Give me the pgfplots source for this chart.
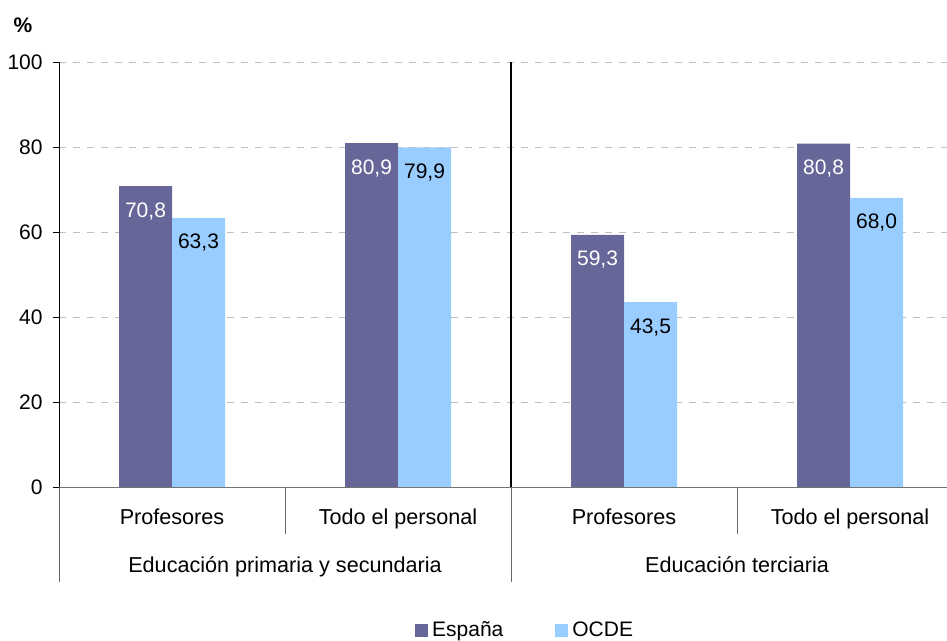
\documentclass[border=0pt]{standalone}
\usepackage{pgfplots}
\pgfplotsset{compat=1.18}
\usepackage{fontspec}
\setmainfont{Liberation Sans}
\definecolor{esp}{HTML}{666699}
\definecolor{ocde}{HTML}{99CCFF}
\begin{document}
\fontsize{10.5pt}{12.6pt}\selectfont
\begin{tikzpicture}
\useasboundingbox (0,0) rectangle (473.5pt,320.5pt);
\node[font=\bfseries\fontsize{10.5pt}{12.6pt}\selectfont] at (11.5pt,307.75pt) {\%};
\begin{axis}[
  at={(29.5pt,77pt)}, anchor=south west,
  scale only axis, width=444pt, height=212.5pt,
  xmin=-0.5, xmax=3.429, ymin=0, ymax=100,
  ybar=0pt, bar width=26.5pt,
  every node near coord/.append style={anchor=center, yshift=-12.5pt, font=\fontsize{10.5pt}{12.6pt}\selectfont},
  axis x line*=bottom, axis y line*=left, axis line style={-},
  x axis line style={black!55},
  y axis line style={black},
  xtick=\empty,
  ytick={0,20,40,60,80,100},
  tick align=outside, major tick length=3pt,
  ytick style={black},
  ymajorgrids, grid style={black!25, dash pattern=on 3.5pt off 3.5pt},
  /pgf/number format/assume math mode=true,
  yticklabel style={font=\fontsize{10.5pt}{12.6pt}\selectfont, xshift=-1.5pt},
  clip=false,
  legend style={draw=none, fill=none, at={(0.526,0)}, anchor=center, yshift=-72pt,
    legend columns=2, font=\fontsize{10.5pt}{12.6pt}\selectfont,
    /tikz/every even column/.append style={column sep=24pt}},
]
\addplot[fill=esp, draw=none,
  nodes near coords={\pgfmathprintnumber[fixed,fixed zerofill,precision=1,use comma,assume math mode=true]{\pgfplotspointmeta}},
  every node near coord/.append style={text=white},
  legend image code/.code={\fill[esp] (0pt,-3.25pt) rectangle (6.5pt,3.25pt);}]
  coordinates {(0,70.8) (1,80.9) (2,59.3) (3,80.8)};
\addlegendentry{España}
\addplot[fill=ocde, draw=none,
  nodes near coords={\pgfmathprintnumber[fixed,fixed zerofill,precision=1,use comma,assume math mode=true]{\pgfplotspointmeta}},
  every node near coord/.append style={text=black},
  legend image code/.code={\fill[ocde] (0pt,-3.25pt) rectangle (6.5pt,3.25pt);}]
  coordinates {(0,63.3) (1,79.9) (2,43.5) (3,68.0)};
\addlegendentry{OCDE}
\draw[black!60] (axis cs:-0.5,0) -- ([yshift=-47.5pt]axis cs:-0.5,0);
\draw[black!60] (axis cs:0.5,0) -- ([yshift=-23.5pt]axis cs:0.5,0);
\draw[black!60] (axis cs:2.5,0) -- ([yshift=-23.5pt]axis cs:2.5,0);
\draw[black!60] (axis cs:1.5,0) -- ([yshift=-47.5pt]axis cs:1.5,0);
\draw[black, line width=1pt] (axis cs:1.5,100) -- (axis cs:1.5,0);
\begin{scope}[every node/.append style={font=\fontsize{10.8pt}{13pt}\selectfont}]
\node[anchor=base, yshift=-19pt] at (axis cs:0,0) {Profesores};
\node[anchor=base, yshift=-19pt] at (axis cs:1,0) {Todo el personal};
\node[anchor=base, yshift=-19pt] at (axis cs:2,0) {Profesores};
\node[anchor=base, yshift=-19pt] at (axis cs:3,0) {Todo el personal};
\node[anchor=base, yshift=-43pt] at (axis cs:0.5,0) {Educación primaria y secundaria};
\node[anchor=base, yshift=-43pt] at (axis cs:2.5,0) {Educación terciaria};
\end{scope}
\end{axis}
\end{tikzpicture}
\end{document}
